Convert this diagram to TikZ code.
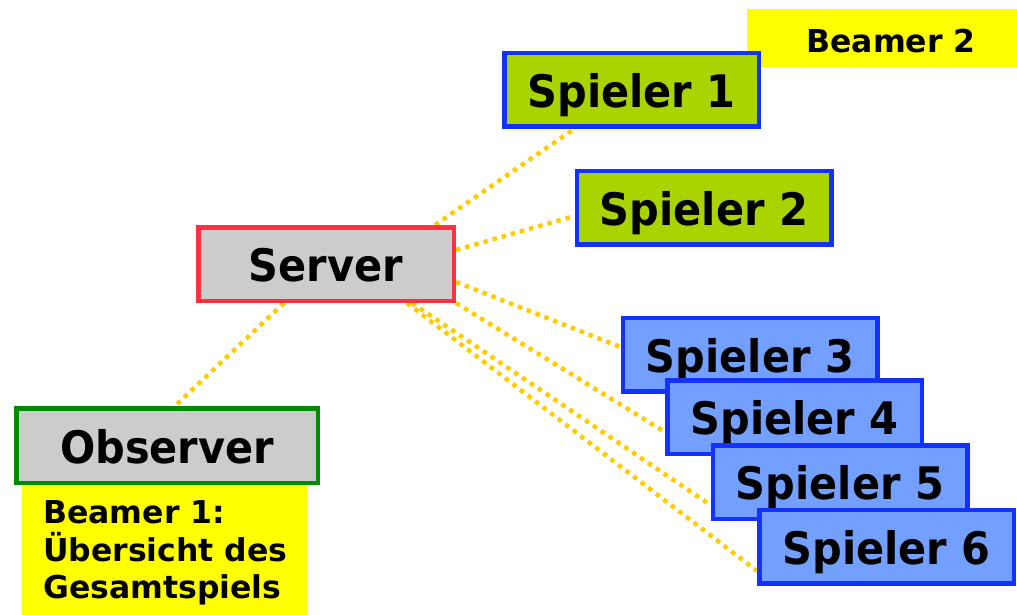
\documentclass[tikz,border=0pt]{standalone}
\usepackage{fontspec}
\setmainfont{DejaVu Sans}
\usetikzlibrary{calc,backgrounds}

\definecolor{linkgold}{RGB}{255,204,0}
\definecolor{playerblue}{RGB}{20,50,255}
\definecolor{limefill}{RGB}{170,212,0}
\definecolor{skyfill}{RGB}{115,160,255}
\definecolor{serverred}{RGB}{255,48,64}
\definecolor{obsgreen}{RGB}{0,140,0}
\definecolor{boxgrey}{RGB}{204,204,204}
\definecolor{notebg}{RGB}{255,255,0}

% slightly taller lettering for the box labels
\newcommand\tallword[1]{\scalebox{1}[1.08]{#1}}

\tikzset{
  box/.style={rectangle, line width=4.5pt, inner sep=0pt,
    minimum height=73.5pt, text height=35pt, text depth=0pt,
    font=\fontsize{41.5}{48}\selectfont\bfseries},
  serverbox/.style={box, draw=serverred, fill=boxgrey, minimum width=255.5pt},
  observerbox/.style={box, draw=obsgreen, fill=boxgrey, minimum width=301.5pt, minimum height=74.5pt},
  limebox/.style={box, draw=playerblue, fill=limefill, minimum width=254.5pt},
  skybox/.style={box, draw=playerblue, fill=skyfill, minimum width=254.5pt},
  notebox/.style={rectangle, fill=notebg, inner sep=0pt},
  notetext/.style={inner sep=0pt, font=\fontsize{31.5}{37.5}\selectfont\bfseries},
  link/.style={draw=linkgold, line width=4.5pt, line cap=butt, dash pattern=on 4.5pt off 5pt}
}

\begin{document}
\begin{tikzpicture}[x=1pt, y=-1pt]
\useasboundingbox (0,0) rectangle (1017,615);

% projector notes
\node[notebox, minimum width=285pt, minimum height=130pt] (beamer1) at (164.5,550) {};
\node[notebox, minimum width=270pt, minimum height=58pt] (beamer2) at (882,38) {};
\node[notetext] (beamer2text) at (891,41) {Beamer 2};
\node[notetext, anchor=west, align=left] (beamer1text) at (43,553)
  {Beamer 1:\\Übersicht des\\Gesamtspiels};

% central server and observer
\node[serverbox] (server) at (326,264) {\tallword{Server}};
\node[observerbox] (observer) at (167,445.5) {\tallword{Observer}};

% players
\node[limebox] (s1) at (631.5,90) {\tallword{Spieler 1}};
\node[limebox] (s2) at (704,207.5) {\tallword{Spieler 2}};
\node[skybox] (s3) at (750,354.5) {\tallword{Spieler 3}};
\node[skybox] (s4) at (794.5,417) {\tallword{Spieler 4}};
\node[skybox] (s5) at (840,482) {\tallword{Spieler 5}};
\node[skybox] (s6) at (886.5,546.5) {\tallword{Spieler 6}};

% dotted connections, kept underneath the boxes
\begin{scope}[on background layer]
\draw[link] ([xshift=-21pt]server.north east) -- ([xshift=72pt]s1.south west);
\draw[link] ([yshift=14pt]server.east) -- ([yshift=-8.5pt]s2.west);
\draw[link] ([xshift=-42pt]server.south) -- ([xshift=8pt]observer.north);
\draw[link] ([yshift=-18pt]server.east) -- ([yshift=7.5pt]s3.west);
\draw[link] (server.south east) -- ([yshift=-15pt]s4.west);
\draw[link] ([xshift=-44pt]server.south east) -- ([yshift=-23pt]s5.west);
\draw[link] ([xshift=-49pt]server.south east) -- ([yshift=-24.5pt]s6.west);
\end{scope}
\end{tikzpicture}
\end{document}
